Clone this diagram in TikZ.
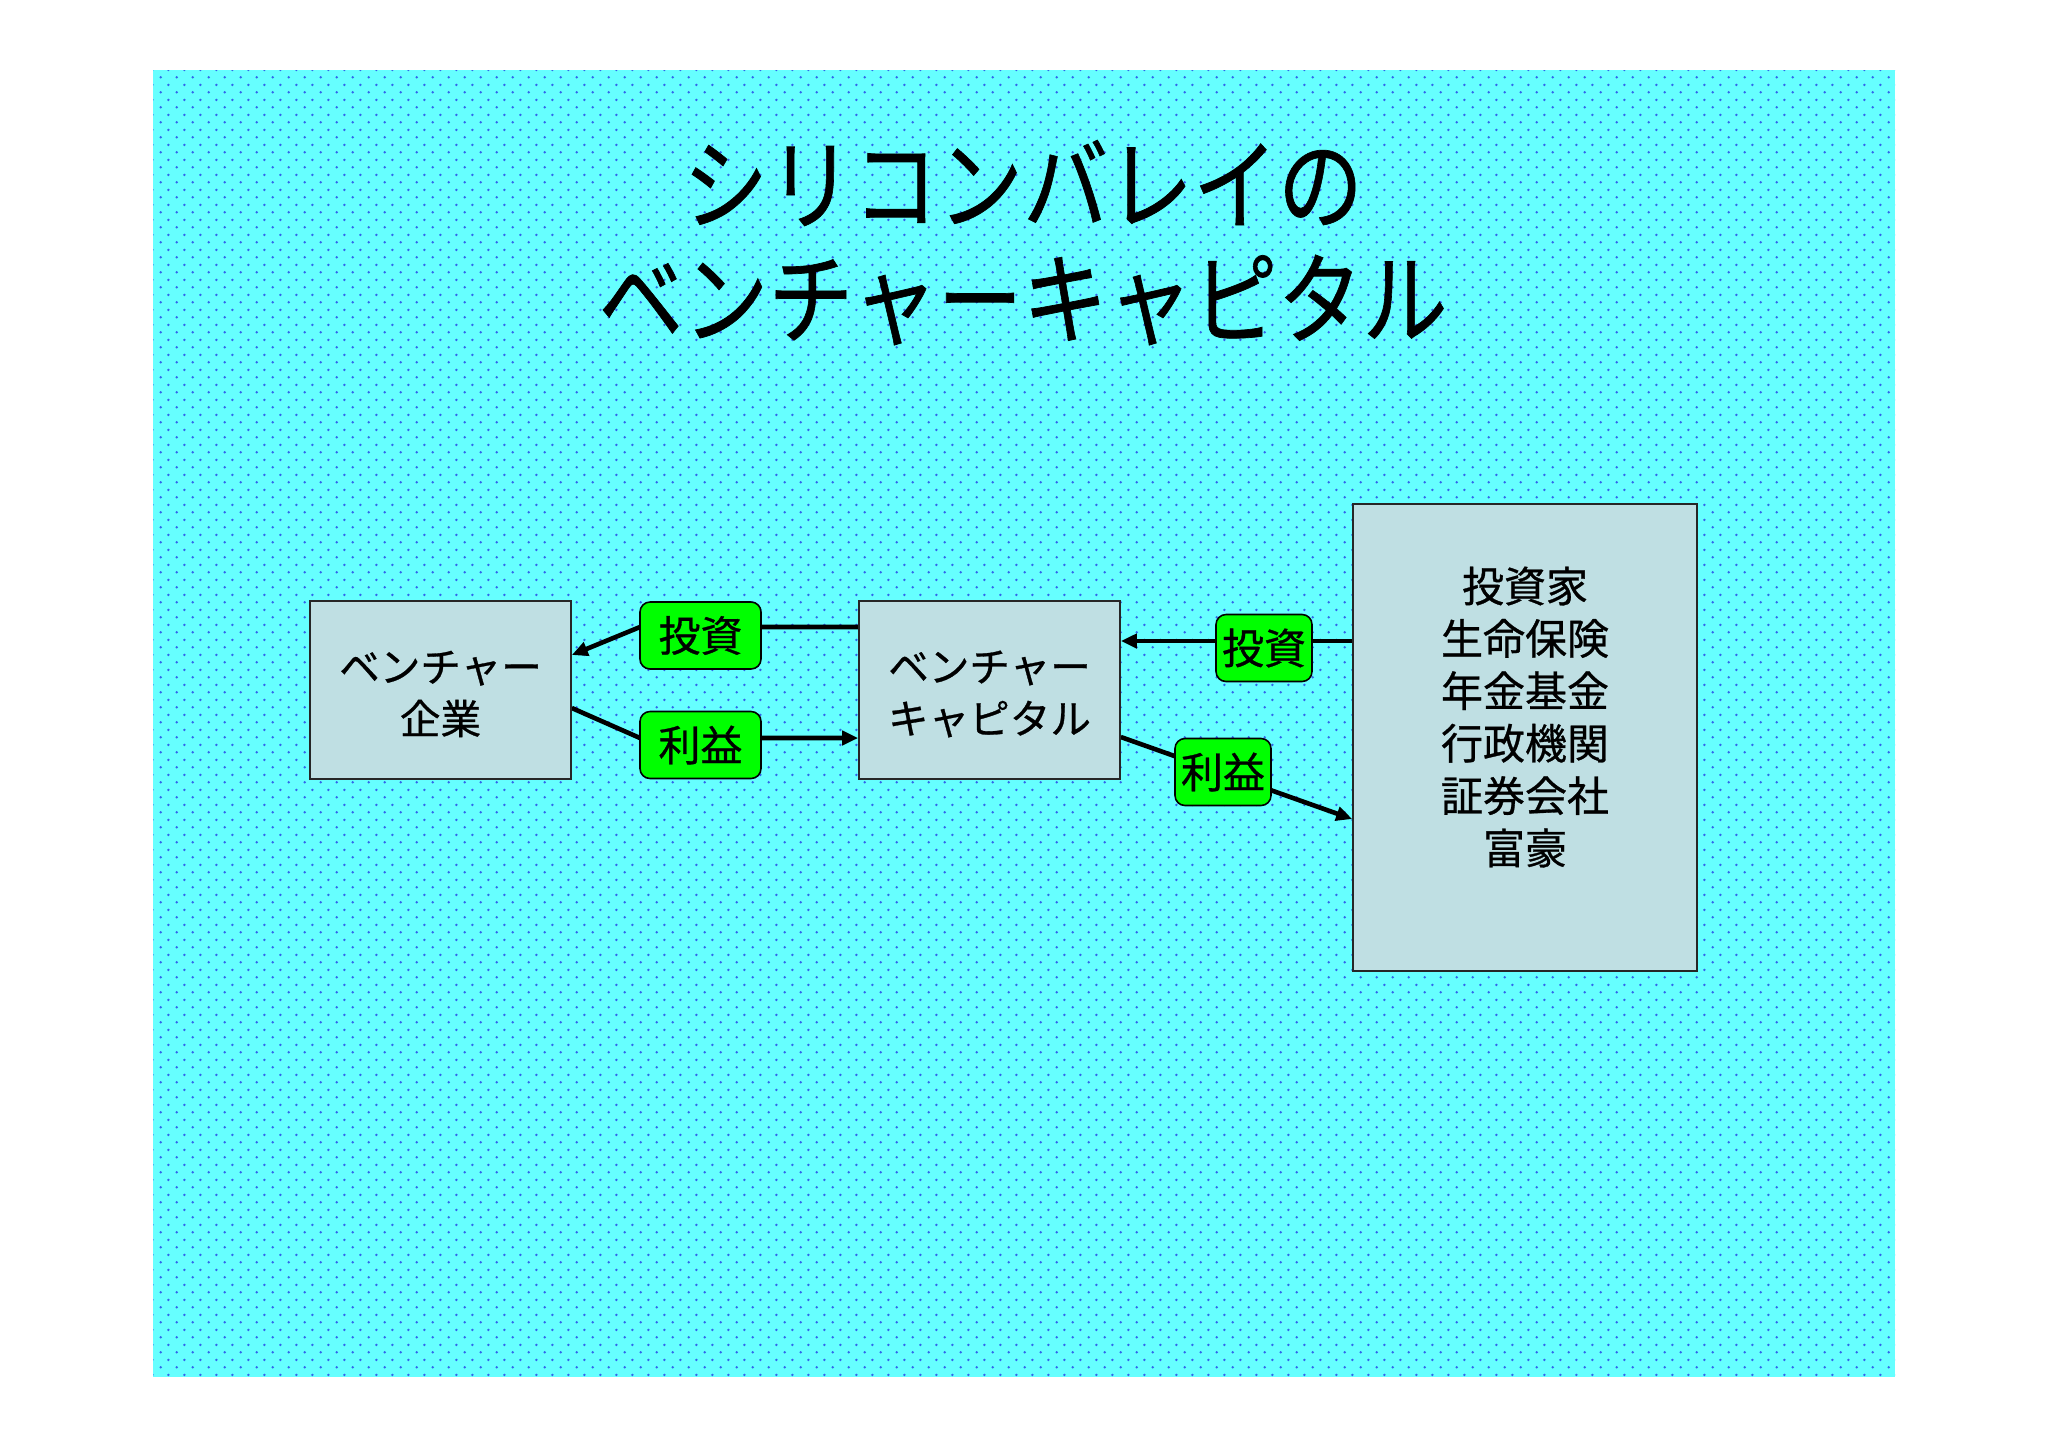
\documentclass[tikz,border=0pt]{standalone}
\usepackage{fontspec}
\newfontfamily\jp{Noto Sans CJK JP}[FakeBold=0.7]
\usetikzlibrary{arrows.meta,patterns}
\pgfdeclarepatternformonly{bgdots}{\pgfpointorigin}{\pgfpoint{7.85pt}{7.7pt}}{\pgfpoint{7.85pt}{7.7pt}}{%
  \pgfpathcircle{\pgfpoint{1.9pt}{1.9pt}}{0.7pt}%
  \pgfpathcircle{\pgfpoint{5.825pt}{5.75pt}}{0.7pt}%
  \pgfusepath{fill}}
\definecolor{bgcyan}{RGB}{102,255,255}
\definecolor{dotblue}{RGB}{50,100,235}
\definecolor{boxfill}{RGB}{191,223,227}
\definecolor{lblgreen}{RGB}{0,255,0}
\pgfdeclarelayer{bg}
\pgfdeclarelayer{conn}
\pgfsetlayers{bg,conn,main}
\tikzset{
  box/.style={draw=black!85, line width=0.8pt, fill=boxfill, inner sep=0pt},
  boxtext/.style={inner sep=0pt, align=center, font=\jp\fontsize{20.3pt}{26pt}\selectfont},
  lbl/.style={draw=black, line width=0.8pt, fill=lblgreen, rounded corners=5pt, inner sep=0pt,
    minimum height=33.5pt, font=\jp\fontsize{21pt}{26pt}\selectfont},
  ttl/.style={inner sep=0pt, font=\jp\fontsize{50pt}{60pt}\selectfont},
  arr/.style={line width=2.3pt, -{Triangle[length=8pt,width=7pt]}}
}
\begin{document}
\begin{tikzpicture}[x=0.5pt,y=-0.5pt]
\useasboundingbox (0,0) rectangle (2048,1447);
\begin{pgfonlayer}{bg}
  \fill[white] (0,0) rectangle (2048,1447);
  \fill[bgcyan] (153,70) rectangle (1895,1377);
  \fill[pattern=bgdots, pattern color=dotblue] (153,70) rectangle (1895,1377);
\end{pgfonlayer}

% title
\node[ttl] (title1) at (1023,183) {\scalebox{0.85}[1]{シリコンバレイの}};
\node[ttl] (title2) at (1023,300) {\scalebox{0.85}[1]{ベンチャーキャピタル}};

% boxes
\node[box, minimum width=130.5pt, minimum height=89pt] (vent) at (440.5,690) {};
\node[box, minimum width=130.5pt, minimum height=89pt] (vcap) at (989.5,690) {};
\node[box, minimum width=172pt, minimum height=233.5pt] (inv) at (1525,737.5) {};
\node[boxtext] (venttext) at (440.5,694) {ベンチャー\\企業};
\node[boxtext] (vcaptext) at (989.5,694) {ベンチャー\\キャピタル};
\node[boxtext, font=\jp\fontsize{21pt}{26.2pt}\selectfont] (invtext) at (1525,717)
  {投資家\\生命保険\\年金基金\\行政機関\\証券会社\\富豪};

% labels
\node[lbl, minimum width=60.5pt] (l1) at (700.5,635.5) {投資};
\node[lbl, minimum width=60.5pt] (l2) at (700.5,745) {利益};
\node[lbl, minimum width=48pt] (r1) at (1264,648) {投資};
\node[lbl, minimum width=48pt] (r2) at (1223,772) {利益};

% connector coordinates
\coordinate (c1) at (640,627);
\coordinate (e1) at (0,655);
\coordinate (s2) at (0,708);
\coordinate (c2) at (640,738);
\coordinate (c3) at (0,641);
\coordinate (s4) at (0,737);
\coordinate (e4) at (0,819);

\begin{pgfonlayer}{conn}
  \draw[arr] (vcap.west |- c1) -- (c1) -- (vent.east |- e1);
  \draw[arr] (vent.east |- s2) -- (c2) -- (vcap.west |- c2);
  \draw[arr] (inv.west |- c3) -- (vcap.east |- c3);
  \draw[arr] (vcap.east |- s4) -- (inv.west |- e4);
\end{pgfonlayer}
\end{tikzpicture}
\end{document}
